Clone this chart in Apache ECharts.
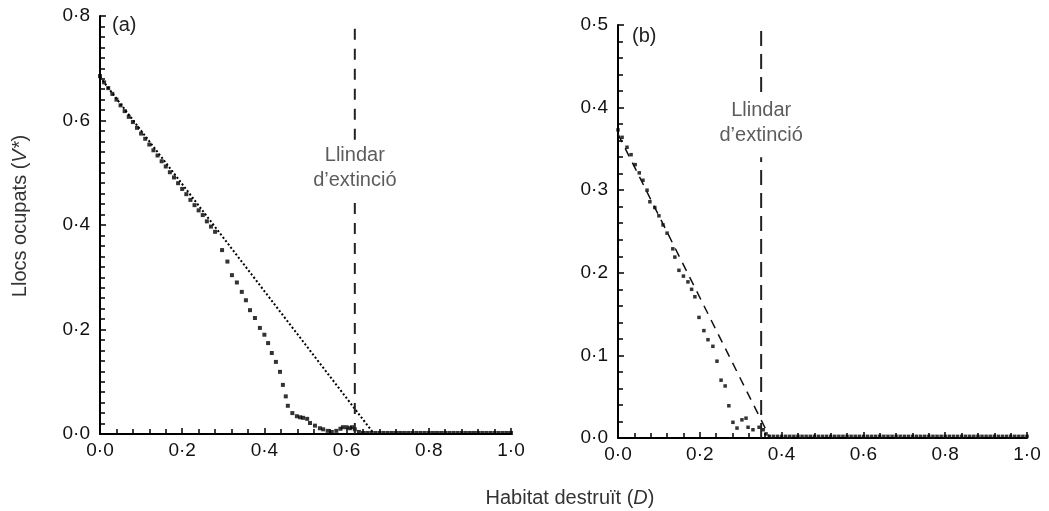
<!DOCTYPE html>
<html>
<head>
<meta charset="utf-8">
<script src="https://cdn.jsdelivr.net/npm/echarts@6/dist/echarts.min.js"></script>
<style>
  html, body { margin: 0; padding: 0; background: #fff; }
  #chart { width: 1049px; height: 511px; }
</style>
</head>
<body>
<div id="chart"></div>
<script>
// panel (a): simulation points [D, V*]
var simA = [
  [0.00,0.685],[0.01,0.673],[0.02,0.662],[0.03,0.651],[0.04,0.640],[0.05,0.629],
  [0.06,0.618],[0.07,0.607],[0.08,0.597],[0.09,0.586],[0.10,0.575],[0.11,0.565],
  [0.12,0.554],[0.13,0.543],[0.14,0.533],[0.15,0.522],[0.16,0.512],[0.17,0.501],
  [0.18,0.491],[0.19,0.480],[0.20,0.469],[0.21,0.459],[0.22,0.448],[0.23,0.438],
  [0.24,0.428],[0.25,0.419],[0.26,0.407],[0.27,0.397],[0.28,0.387],[0.297,0.352],
  [0.31,0.330],[0.321,0.304],[0.333,0.290],[0.345,0.272],[0.355,0.256],[0.365,0.237],
  [0.377,0.222],[0.389,0.203],[0.40,0.190],[0.409,0.174],[0.418,0.155],[0.428,0.138],
  [0.438,0.119],[0.445,0.094],[0.452,0.072],[0.457,0.054],[0.468,0.040],[0.479,0.034],
  [0.487,0.032],[0.494,0.031],[0.504,0.029],[0.511,0.021],[0.523,0.016],[0.535,0.011],
  [0.543,0.009],[0.554,0.006],[0.564,0.004],[0.575,0.006],[0.585,0.010],[0.591,0.013],
  [0.60,0.013],[0.608,0.011],[0.613,0.013],[0.62,0.009],[0.63,0.004],
  [0.64,0.002],[0.65,0.002],[0.66,0.002],[0.67,0.002],[0.68,0.002],[0.69,0.002],
  [0.70,0.002],[0.71,0.002],[0.72,0.002],[0.73,0.002],[0.74,0.002],[0.75,0.002],
  [0.76,0.002],[0.77,0.002],[0.78,0.002],[0.79,0.002],[0.80,0.002],[0.81,0.002],
  [0.82,0.002],[0.83,0.002],[0.84,0.002],[0.85,0.002],[0.86,0.002],[0.87,0.002],
  [0.88,0.002],[0.89,0.002],[0.90,0.002],[0.91,0.002],[0.92,0.002],[0.93,0.002],
  [0.94,0.002],[0.95,0.002],[0.96,0.002],[0.97,0.002],[0.98,0.002],[0.99,0.002],
  [1.00,0.002]
];
// panel (a): analytical prediction
var theoryA = [[0, 0.683], [0.667, 0], [1.0, 0]];

// panel (b): simulation points
var simB = [
  [0.000,0.373],[0.010,0.364],[0.022,0.352],[0.032,0.343],[0.042,0.331],[0.052,0.321],
  [0.061,0.312],[0.071,0.300],[0.078,0.286],[0.090,0.279],[0.100,0.269],[0.110,0.258],
  [0.120,0.248],[0.134,0.229],[0.139,0.219],[0.149,0.203],[0.160,0.196],[0.171,0.189],
  [0.180,0.180],[0.188,0.171],[0.198,0.146],[0.210,0.130],[0.220,0.119],[0.232,0.111],
  [0.242,0.093],[0.252,0.070],[0.262,0.063],[0.271,0.039],[0.281,0.019],[0.291,0.012],
  [0.303,0.022],[0.313,0.024],[0.318,0.013],[0.330,0.010],[0.345,0.013],[0.355,0.010],
  [0.362,0.005],
  [0.37,0.002],[0.38,0.002],[0.39,0.002],[0.40,0.002],[0.41,0.002],[0.42,0.002],
  [0.43,0.002],[0.44,0.002],[0.45,0.002],[0.46,0.002],[0.47,0.002],[0.48,0.002],
  [0.49,0.002],[0.50,0.002],[0.51,0.002],[0.52,0.002],[0.53,0.002],[0.54,0.002],
  [0.55,0.002],[0.56,0.002],[0.57,0.002],[0.58,0.002],[0.59,0.002],[0.60,0.002],
  [0.61,0.002],[0.62,0.002],[0.63,0.002],[0.64,0.002],[0.65,0.002],[0.66,0.002],
  [0.67,0.002],[0.68,0.002],[0.69,0.002],[0.70,0.002],[0.71,0.002],[0.72,0.002],
  [0.73,0.002],[0.74,0.002],[0.75,0.002],[0.76,0.002],[0.77,0.002],[0.78,0.002],
  [0.79,0.002],[0.80,0.002],[0.81,0.002],[0.82,0.002],[0.83,0.002],[0.84,0.002],
  [0.85,0.002],[0.86,0.002],[0.87,0.002],[0.88,0.002],[0.89,0.002],[0.90,0.002],
  [0.91,0.002],[0.92,0.002],[0.93,0.002],[0.94,0.002],[0.95,0.002],[0.96,0.002],
  [0.97,0.002],[0.98,0.002],[0.99,0.002],[1.00,0.002]
];
var theoryB = [[0, 0.368], [0.372, 0], [1.0, 0]];

// extinction thresholds: x, segment below label, segment above label
var thresholdX = [0.62, 0.35];
var thresholdLow = [[0, 0.452], [0, 0.34]];
var thresholdHigh = [[0.563, 0.779], [0.419, 0.498]];
var thresholdLabelY = [0.509, 0.381];

var yMax = [0.8, 0.5];
var yStep = [0.2, 0.1];
var yMinor = [10, 5];

var FONT = "'Liberation Sans', Arial, sans-serif";
function fmt(v) { return v.toFixed(1).replace('.', '\u00b7'); }

function xAxis(i) {
  return {
    type: 'value', gridIndex: i, min: 0, max: 1, interval: 0.2,
    axisLine: { lineStyle: { color: '#000', width: 2 } },
    axisTick: { inside: true, length: 6, lineStyle: { color: '#000', width: 1.5 } },
    minorTick: { show: true, splitNumber: 5, length: 5, lineStyle: { color: '#000', width: 1.5 } },
    splitLine: { show: false },
    axisLabel: { formatter: fmt, color: '#111', fontSize: 19, fontFamily: FONT, margin: 7 }
  };
}
function yAxis(i) {
  return {
    type: 'value', gridIndex: i, min: 0, max: yMax[i], interval: yStep[i],
    axisLine: { show: true, lineStyle: { color: '#000', width: 2 } },
    axisTick: { show: true, inside: true, length: 6, lineStyle: { color: '#000', width: 1.5 } },
    minorTick: { show: true, splitNumber: yMinor[i], length: 5, lineStyle: { color: '#000', width: 1.5 } },
    splitLine: { show: false },
    axisLabel: { formatter: fmt, color: '#111', fontSize: 19, fontFamily: FONT, margin: 10 }
  };
}

var series = [];
[simA, simB].forEach(function (d, i) {
  series.push({
    type: 'scatter', xAxisIndex: i, yAxisIndex: i, data: d,
    symbol: 'rect', symbolSize: i === 0 ? 4 : 3.5, itemStyle: { color: '#000' }, silent: true
  });
});
series.push({
  type: 'line', xAxisIndex: 0, yAxisIndex: 0, data: theoryA, symbol: 'none', silent: true,
  lineStyle: { color: '#000', width: 2, type: [2, 2.2] }
});
series.push({
  type: 'line', xAxisIndex: 1, yAxisIndex: 1, data: theoryB, symbol: 'none', silent: true,
  lineStyle: { color: '#111', width: 1.5, type: [9, 7] }
});
thresholdX.forEach(function (x, i) {
  var dash = i === 0 ? [11, 9] : [15, 8];
  [thresholdLow[i], thresholdHigh[i]].forEach(function (seg) {
    series.push({
      type: 'line', xAxisIndex: i, yAxisIndex: i, symbol: 'none', silent: true,
      data: [[x, seg[0]], [x, seg[1]]],
      lineStyle: { color: '#222', width: 2, type: dash }
    });
  });
  series.push({
    type: 'scatter', xAxisIndex: i, yAxisIndex: i, silent: true,
    data: [[x, thresholdLabelY[i]]], symbolSize: 1,
    itemStyle: { color: 'rgba(0,0,0,0)' },
    label: {
      show: true, position: 'inside', formatter: 'Llindar\nd\u2019extinci\u00f3',
      fontSize: 20, lineHeight: 25, color: '#333', fontFamily: FONT
    }
  });
});

var chart = echarts.init(document.getElementById('chart'));
chart.setOption({
  animation: false,
  backgroundColor: '#fff',
  grid: [
    { left: 100, top: 16, width: 411, height: 418 },
    { left: 618, top: 25, width: 409, height: 413 }
  ],
  xAxis: [xAxis(0), xAxis(1)],
  yAxis: [yAxis(0), yAxis(1)],
  series: series,
  graphic: [
    { type: 'text', x: 112, y: 25, style: { text: '(a)', font: '20px ' + FONT, fill: '#222', textVerticalAlign: 'middle' } },
    { type: 'text', x: 632, y: 36, style: { text: '(b)', font: '20px ' + FONT, fill: '#222', textVerticalAlign: 'middle' } },
    {
      type: 'text', x: 20, y: 216, rotation: Math.PI / 2,
      style: {
        text: 'Llocs ocupats ({i|V*})', font: '20px ' + FONT, fill: '#333',
        textAlign: 'center', textVerticalAlign: 'middle',
        rich: { i: { fontStyle: 'italic', fontSize: 20, fontFamily: FONT, fill: '#333' } }
      }
    },
    {
      type: 'text', x: 570, y: 498,
      style: {
        text: 'Habitat destru\u00eft ({i|D})', font: '20px ' + FONT, fill: '#333',
        textAlign: 'center', textVerticalAlign: 'middle',
        rich: { i: { fontStyle: 'italic', fontSize: 20, fontFamily: FONT, fill: '#333' } }
      }
    }
  ]
});
</script>
</body>
</html>
